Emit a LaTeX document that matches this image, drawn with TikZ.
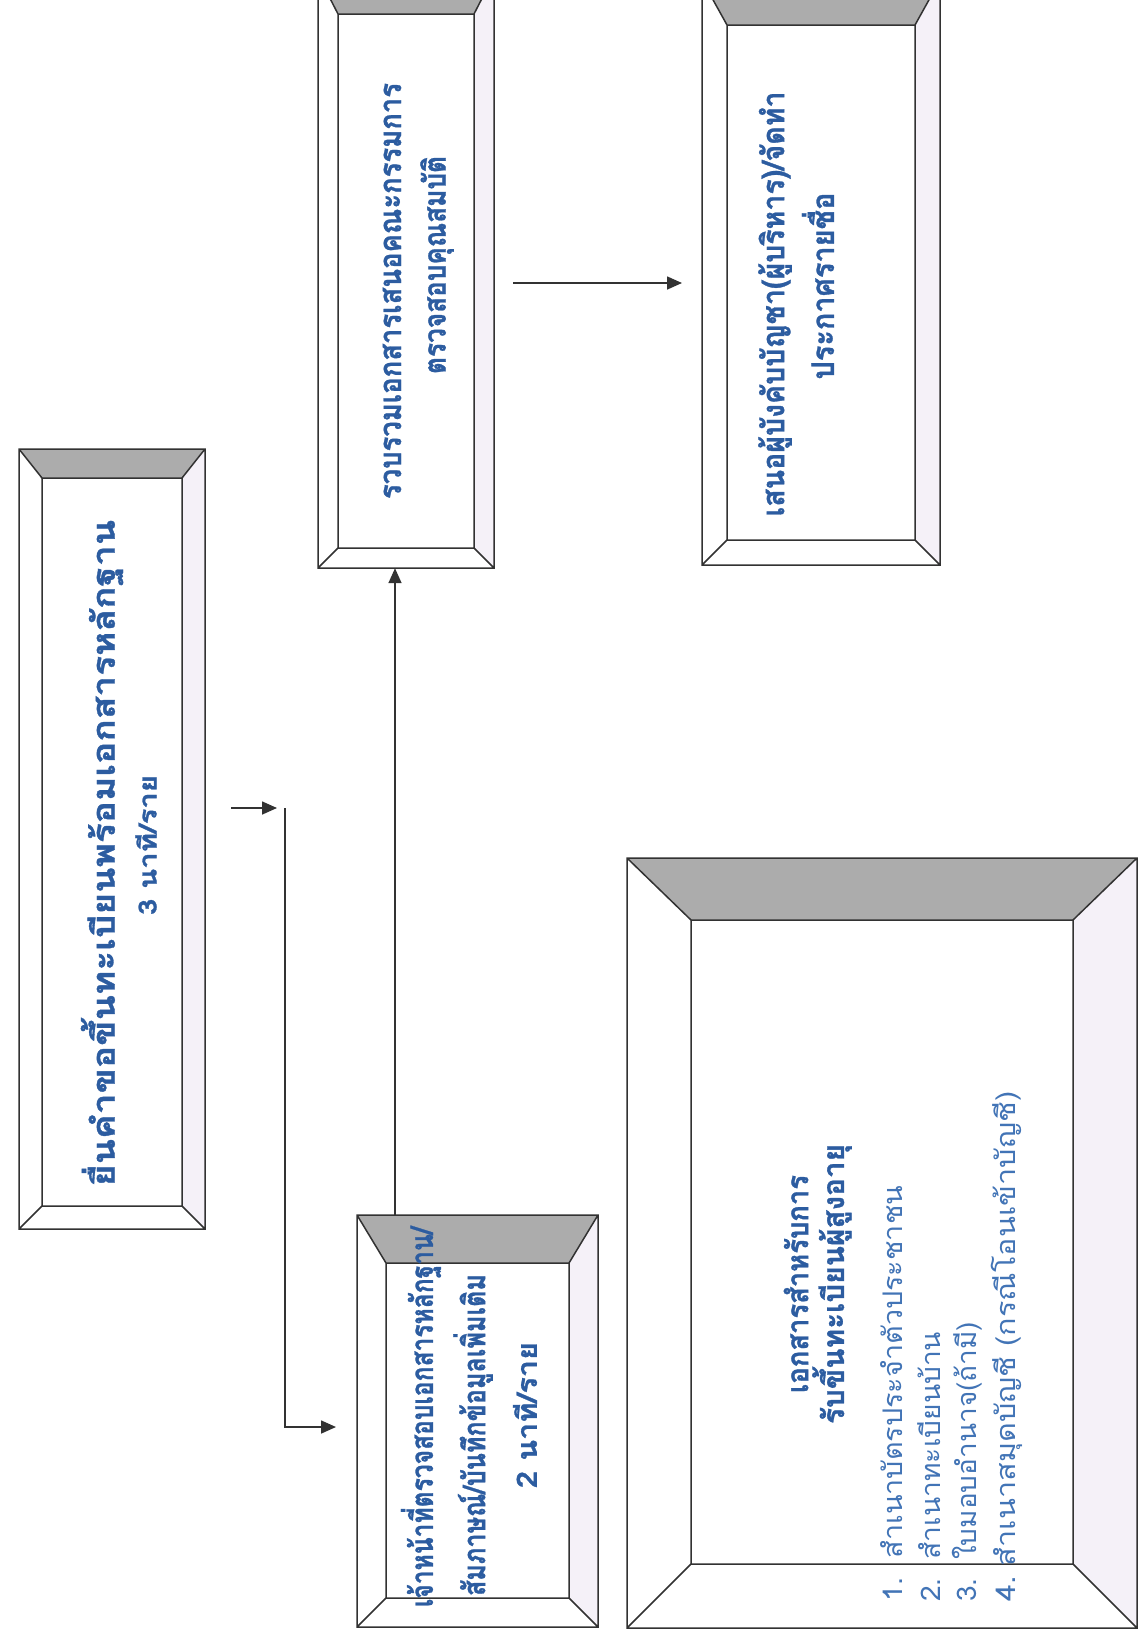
\documentclass[tikz,border=0pt]{standalone}
\usepackage{fontspec}
\newfontfamily\thai[Script=Thai]{Loma}
\newfontfamily\thaihv[Script=Thai,FakeBold=1]{Loma}
\usetikzlibrary{arrows.meta,fit}
\definecolor{tblue}{RGB}{44,92,160}
\definecolor{lblue}{RGB}{66,116,182}
\definecolor{bevgray}{RGB}{172,172,172}
\definecolor{bevlav}{RGB}{245,241,248}
\definecolor{bline}{RGB}{50,50,50}
\tikzset{
  boxline/.style={draw=bline, line width=1.5pt, line join=miter},
  arr/.style={draw=bline, line width=1.6pt, -{Triangle[length=15pt,width=13pt]}},
  tl/.style={rotate=90, inner sep=0pt, text=tblue},
  tr/.style={rotate=90, inner sep=0pt, text=lblue, anchor=west}
}
% name, x1, y1, x2, y2, side bevel, top bevel
\newcommand\bvbox[7]{%
  \coordinate (#1-a) at (#2,#3);
  \coordinate (#1-b) at (#4,#5);
  \coordinate (#1-c) at ({#2+#6},{#3+#7});
  \coordinate (#1-d) at ({#4-#6},{#5-#6});
  \fill[white] (#1-a) rectangle (#1-b);
  \fill[bevgray] (#1-a) -- (#1-a -| #1-b) -- (#1-c -| #1-d) -- (#1-c) -- cycle;
  \fill[bevlav] (#1-a -| #1-b) -- (#1-b) -- (#1-d) -- (#1-c -| #1-d) -- cycle;
  \draw[boxline] (#1-a) rectangle (#1-b) (#1-c) rectangle (#1-d)
    (#1-a) -- (#1-c) (#1-a -| #1-b) -- (#1-c -| #1-d)
    (#1-b) -- (#1-d) (#1-a |- #1-b) -- (#1-c |- #1-d);
  \node[fit=(#1-a)(#1-b), inner sep=0pt] (#1) {};
}
\newlength\twd
\newcommand\fitx[2]{%
  \settowidth\twd{#2}%
  \pgfmathsetmacro\sxf{#1/\twd}%
  \scalebox{\sxf}[1]{#2}}
% name, x, y, length, size, text
\newcommand\tbold[6]{\node[tl] (#1) at (#2,#3) {\fitx{#4}{\thaihv\bfseries\fontsize{#5}{#5}\selectfont #6}};}
\newcommand\treg[6]{\node[tr] (#1) at (#2,#3) {\fitx{#4}{\thai\fontsize{#5}{#5}\selectfont #6}};}

\begin{document}
\begin{tikzpicture}[x=1pt,y=-1pt]
\useasboundingbox (0,0) rectangle (1145,1630);
\fill[white] (0,0) rectangle (1145,1630);
\clip (0,0) rectangle (1145,1630);

\bvbox{b1}{19}{449}{205}{1229}{23}{29}
\bvbox{b3}{318}{-25}{494}{568}{20}{39}
\bvbox{b4}{702}{-20}{940}{565}{25}{45}
\bvbox{b2}{357}{1215}{598}{1627}{29}{48}
\bvbox{b5}{627}{858}{1137}{1628}{64}{62}

% box 1
\tbold{t11}{102}{853}{666}{32}{ยื่นคำขอขึ้นทะเบียนพร้อมเอกสารหลักฐาน}
\tbold{t12}{146}{845}{140}{25}{3 นาที/ราย}
% box 3
\tbold{t31}{392}{291}{416}{31}{รวบรวมเอกสารเสนอคณะกรรมการ}
\tbold{t32}{437}{265}{218}{31}{ตรวจสอบคุณสมบัติ}
% box 4
\tbold{t41}{775}{304}{425}{31}{เสนอผู้บังคับบัญชา(ผู้บริหาร)/จัดทำ}
\tbold{t42}{818}{286}{187}{31}{ประกาศรายชื่อ}
% box 2
\tbold{t21}{421}{1417}{380}{31}{เจ้าหน้าที่ตรวจสอบเอกสารหลักฐาน/}
\tbold{t22}{473}{1435}{322}{31}{สัมภาษณ์/บันทึกข้อมูลเพิ่มเติม}
\tbold{t23}{525}{1415}{146}{28}{2 นาที/ราย}
% box 5
\tbold{t51}{796}{1284}{218}{30}{เอกสารสำหรับการ}
\tbold{t52}{832}{1284}{280}{30}{รับขึ้นทะเบียนผู้สูงอายุ}
\treg{t53}{892}{1602}{416}{27}{1.\ \ สำเนาบัตรประจำตัวประชาชน}
\treg{t54}{929}{1602}{270}{27}{2.\ \ สำเนาทะเบียนบ้าน}
\treg{t55}{967}{1602}{280}{27}{3.\ \ ใบมอบอำนาจ(ถ้ามี)}
\treg{t56}{1007}{1602}{510}{27}{4.\ สำเนาสมุดบัญชี (กรณีโอนเข้าบัญชี)}

% connectors
\coordinate (p1) at (231,808);
\coordinate (p2) at (277,808);
\coordinate (p3) at (285,808);
\coordinate (p4) at (336,1427);
\coordinate (a2) at (395,0);
\coordinate (p5) at (513,283);
\coordinate (p6) at (682,283);
\draw[arr] (p1) -- (p2);
\draw[arr] (p3) |- (p4);
\draw[arr] (b2.north -| a2) -- (b3.south -| a2);
\draw[arr] (p5) -- (p6);
\end{tikzpicture}
\end{document}
